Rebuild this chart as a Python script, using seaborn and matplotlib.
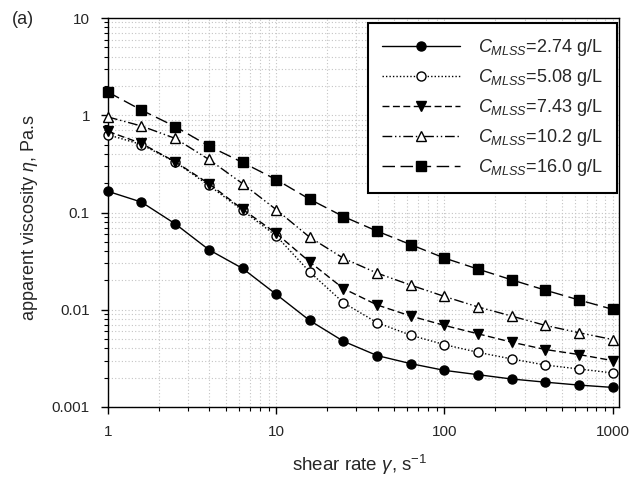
import numpy as np
import pandas as pd
import matplotlib
matplotlib.use("Agg")
import matplotlib.pyplot as plt
import seaborn as sns
from matplotlib.ticker import FixedLocator, FixedFormatter, LogLocator, NullFormatter

shear_rate = [1, 1.58, 2.51, 3.98, 6.31, 10, 15.8, 25.1, 39.8, 63.1, 100, 158, 251, 398, 631, 1000]

visc_274 = [0.165, 0.128, 0.0764, 0.0414, 0.0266, 0.0144, 0.00776, 0.00474, 0.00338, 0.00279,
            0.00238, 0.00215, 0.00194, 0.00180, 0.00168, 0.00159]
visc_508 = [0.63, 0.50, 0.33, 0.19, 0.105, 0.0575, 0.0245, 0.0118, 0.00736, 0.00547,
            0.00438, 0.00365, 0.00312, 0.00270, 0.00246, 0.00224]
visc_743 = [0.683, 0.513, 0.332, 0.198, 0.108, 0.0610, 0.0311, 0.0165, 0.0112, 0.00861,
            0.00690, 0.00566, 0.00464, 0.00390, 0.00346, 0.00300]
visc_102 = [0.96, 0.775, 0.578, 0.351, 0.198, 0.107, 0.0557, 0.0338, 0.0238, 0.0179,
            0.0137, 0.0107, 0.00861, 0.00690, 0.00580, 0.00494]
visc_160 = [1.73, 1.13, 0.764, 0.482, 0.327, 0.218, 0.137, 0.0908, 0.0643, 0.0467,
            0.0340, 0.0262, 0.0203, 0.0159, 0.0126, 0.0101]

labels = [r"$C_{MLSS}$=2.74 g/L", r"$C_{MLSS}$=5.08 g/L", r"$C_{MLSS}$=7.43 g/L",
          r"$C_{MLSS}$=10.2 g/L", r"$C_{MLSS}$=16.0 g/L"]
series = [visc_274, visc_508, visc_743, visc_102, visc_160]

x_ticks = [1, 10, 100, 1000]
x_ticklabels = ["1", "10", "100", "1000"]
y_ticks = [0.001, 0.01, 0.1, 1, 10]
y_ticklabels = ["0.001", "0.01", "0.1", "1", "10"]

sns.set_style("white")
plt.rcParams["font.family"] = ["Liberation Sans", "DejaVu Sans"]
plt.rcParams["mathtext.fontset"] = "custom"
plt.rcParams["mathtext.rm"] = "Liberation Sans"
plt.rcParams["mathtext.it"] = "Liberation Sans:italic"
plt.rcParams["mathtext.bf"] = "Liberation Sans:bold"

fig = plt.figure(figsize=(6.3, 4.79), dpi=100)
ax = fig.add_axes([108 / 630, 1 - 407 / 479, (619 - 108) / 630, (407 - 18) / 479])

styles = [
    dict(marker="o", linestyle="-", markerfacecolor="black"),
    dict(marker="o", linestyle=(0, (1, 1.5)), markerfacecolor="white"),
    dict(marker="v", linestyle=(0, (5, 2.5)), markerfacecolor="black"),
    dict(marker="^", linestyle=(0, (7, 2, 1, 2, 1, 2)), markerfacecolor="white"),
    dict(marker="s", linestyle=(0, (9, 4)), markerfacecolor="black"),
]

for lab, vals, st in zip(labels, series, styles):
    df = pd.DataFrame({"shear": shear_rate, "visc": vals})
    sns.lineplot(data=df, x="shear", y="visc", ax=ax, color="black", linewidth=1.0,
                 markersize=6.5, markeredgecolor="black", markeredgewidth=1.0,
                 label=lab, clip_on=False, zorder=3, **st)

ax.set_xscale("log")
ax.set_yscale("log")
ax.set_xlim(1, 1000 * 10 ** ((619 - 612.7) / 168))
ax.set_ylim(0.001, 10)

ax.xaxis.set_major_locator(FixedLocator(x_ticks))
ax.xaxis.set_major_formatter(FixedFormatter(x_ticklabels))
ax.yaxis.set_major_locator(FixedLocator(y_ticks))
ax.yaxis.set_major_formatter(FixedFormatter(y_ticklabels))
ax.xaxis.set_minor_locator(LogLocator(base=10, subs=np.arange(2, 10)))
ax.yaxis.set_minor_locator(LogLocator(base=10, subs=np.arange(2, 10)))
ax.xaxis.set_minor_formatter(NullFormatter())
ax.yaxis.set_minor_formatter(NullFormatter())

ax.grid(True, which="both", linestyle=(0, (1, 2)), color="#c4c4c4", linewidth=0.8)
ax.set_axisbelow(True)

ax.tick_params(axis="both", which="major", direction="out", length=5, width=1,
               labelsize=11, color="black", pad=8, bottom=True, left=True)
ax.tick_params(axis="both", which="minor", direction="out", length=3, width=0.8,
               color="black", bottom=True, left=True)

for sp in ax.spines.values():
    sp.set_color("black")
    sp.set_linewidth(1.0)

ax.set_xlabel(r"shear rate $\gamma$, s$^{-1}$", fontsize=13.5)
ax.set_ylabel(r"apparent viscosity $\eta$, Pa.s", fontsize=13)
ax.xaxis.set_label_coords((360 - 108) / 511, -(453 - 407) / 389)
ax.yaxis.set_label_coords(-(108 - 40) / 511, (407 - 218) / 389)

leg = ax.legend(loc="upper right", bbox_to_anchor=(1 - 2 / 511, 1 - 4.5 / 389),
                frameon=True, fancybox=False, fontsize=13, handlelength=4.3,
                handletextpad=1.0, labelspacing=0.5, borderpad=0.8, borderaxespad=0,
                edgecolor="black", framealpha=1.0)
leg.get_frame().set_linewidth(1.5)
leg.set_zorder(5)

fig.text(12 / 630, 1 - 20 / 479, "(a)", fontsize=13, va="center", ha="left")

fig.savefig("out.png", dpi=100)
